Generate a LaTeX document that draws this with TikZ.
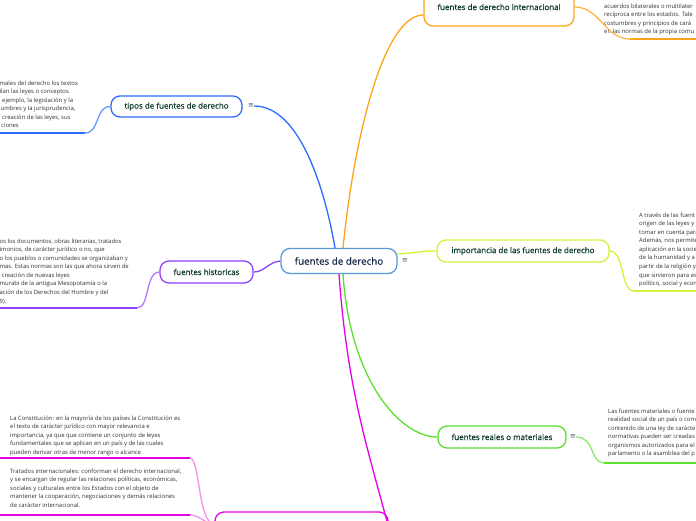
\documentclass[tikz,border=0pt]{standalone}
\usepackage{fontspec}
\setmainfont{Open Sans}
\newfontfamily\labelf[FakeBold=0.6]{Open Sans}
\newfontfamily\symf{DejaVu Sans}
\definecolor{cblue}{HTML}{2F6BFF}
\definecolor{corange}{HTML}{FFA31A}
\definecolor{clime}{HTML}{D9F03A}
\definecolor{cgreen}{HTML}{5AE02E}
\definecolor{cmag}{HTML}{E600E6}
\definecolor{cpink}{HTML}{F290F2}
\definecolor{cpurple}{HTML}{9040FF}
\definecolor{ccentral}{HTML}{5A9AD6}
\definecolor{labelc}{HTML}{0E3B2E}
\definecolor{centralc}{HTML}{1A2B4C}
\definecolor{bodyc}{HTML}{333333}
\begin{document}
\begin{tikzpicture}[x=1pt,y=-1pt,
  topic/.style={draw, rounded corners=9pt, fill=white, line width=1.3pt, inner sep=0pt,
    text=labelc, font=\labelf\fontsize{8}{9.5}\selectfont},
  body/.style={anchor=north west, align=left, inner sep=0pt, text=bodyc,
    font=\fontsize{5.9}{8.55}\selectfont},
  menu/.style={text=black!65, font=\symf\fontsize{7}{7}\selectfont, inner sep=0pt},
  link/.style={line width=1.3pt}]
\useasboundingbox (0,0) rectangle (696,520);
\clip (0,0) rectangle (696,520);
\fill[white] (0,0) rectangle (696,520);

% nodes
\node[topic, draw=ccentral, text=centralc, font=\labelf\fontsize{9.8}{11}\selectfont,
  minimum width=116pt, minimum height=25pt] (c) at (339,261) {fuentes de derecho};
\node[menu] (m0) at (405,261) {≡};
\node[topic, draw=cblue, minimum width=131pt, minimum height=21pt] (t) at (176.5,106.5) {tipos de fuentes de derecho};
\node[menu] (m1) at (251,106) {≡};
\node[topic, draw=cpurple, minimum width=93pt, minimum height=22pt] (h) at (206.5,272) {fuentes historicas};
\node[topic, draw=corange, minimum width=150pt, minimum height=38pt] (i) at (499,7) {fuentes de derecho internacional};
\node[topic, draw=clime, minimum width=172pt, minimum height=22pt] (p) at (523,251) {importancia de las fuentes de derecho};
\node[topic, draw=cgreen, minimum width=128pt, minimum height=22pt] (r) at (502,437) {fuentes reales o materiales};
\node[menu] (m3) at (573,437) {≡};
\node[topic, draw=cmag, minimum width=173pt, minimum height=24pt] (b) at (301.5,524) {};

% text blocks
\node[body] (tb) at (-0.5,80.5) {males del derecho los textos\\ilan las leyes o conceptos\\\hspace*{2.5pt}ejemplo, la legislación y la\\\hspace*{1pt}umbres y la jurisprudencia,\\\hspace*{2.5pt}creación de las leyes, sus\\\hspace*{1.5pt}ciones};
\node[body] (hb) at (-0.5,238.5) {os los documentos, obras literarias, tratados\\imonios, de carácter jurídico o no, que\\o los pueblos o comunidades se organizaban y\\mas. Estas normas son las que ahora sirven de\\\hspace*{2pt}creación de nuevas leyes\\murabi de la antigua Mesopotamia o la\\ación de los Derechos del Hombre y del\\9).};
\node[body] (ib) at (604,3.5) {acuerdos bilaterales o multilater\\recíproca entre los estados. Tale\\costumbres y principios de cará\\en las normas de la propia comu};
\node[body] (pb) at (639,212.5) {A través de las fuent\\origen de las leyes y\\tomar en cuenta para\\Además, nos permite\\aplicación en la socie\\de la humanidad y a\\partir de la religión y\\que sirvieron para es\\político, social y econ};
\node[body] (rb) at (608,408.5) {Las fuentes materiales o fuente\\realidad social de un país o com\\contenido de una ley de carácte\\normativas pueden ser creadas\\organismos autorizados para el\\parlamento o la asamblea del p};
\node[body] (ab) at (10,415.5) {La Constitución: en la mayoría de los países la Constitución es\\el texto de carácter jurídico con mayor relevancia e\\importancia, ya que que contiene un conjunto de leyes\\fundamentales que se aplican en un país y de las cuales\\pueden derivar otras de menor rango o alcance};
\node[body] (bb) at (10,468.5) {Tratados internacionales: conforman el derecho internacional,\\y se encargan de regular las relaciones políticas, económicas,\\sociales y culturales entre los Estados con el objeto de\\mantener la cooperación, negociaciones y demás relaciones\\de carácter internacional.};

% underline coordinates
\coordinate (tu) at (85,133);   \coordinate (tu0) at (-2,133);
\coordinate (hu) at (137,308);  \coordinate (hu0) at (-2,308);
\coordinate (iu) at (630,39);   \coordinate (iu0) at (700,39);
\coordinate (pu) at (634,291);  \coordinate (pu0) at (700,291);
\coordinate (ru) at (604,463);  \coordinate (ru0) at (700,463);
\coordinate (au) at (190,458);  \coordinate (au0) at (-2,458);
\coordinate (bu) at (190,515);  \coordinate (bu0) at (-2,515);
\coordinate (mend) at (393,545);

% main connectors
\draw[link, cblue] ([xshift=-4pt]c.north) .. controls (325,190) and (300,106) .. (m1.east);
\draw[link, corange] ([xshift=4pt]c.north) .. controls (355,130) and (385,15) .. ([yshift=-8pt]i.west);
\draw[link, clime] ([yshift=7pt]c.east) .. controls (415,253) and (420,251) .. (p.west);
\draw[link, cgreen] ([xshift=4pt]c.south) .. controls (350,380) and (400,437) .. (r.west);
\draw[link, cmag] (c.south) .. controls (348,400) and (372,460) .. (mend);
\draw[link, cpurple] (c.west) .. controls (268,262) and (265,272) .. (h.east);

% sub connectors
\draw[link, cblue!70] (t.west) .. controls (95,106) and (100,133) .. (tu);
\draw[link, cblue] (tu) -- (tu0);
\draw[link, cpurple!70] (h.west) .. controls (145,272) and (150,308) .. (hu);
\draw[link, cpurple] (hu) -- (hu0);
\draw[link, corange!80] (i.east) .. controls (600,7) and (605,39) .. (iu);
\draw[link, corange] (iu) -- (iu0);
\draw[link, clime] (p.east) .. controls (625,251) and (620,291) .. (pu);
\draw[link, clime] (pu) -- (pu0);
\draw[link, cgreen!70] (m3.east) .. controls (595,437) and (590,463) .. (ru);
\draw[link, cgreen] (ru) -- (ru0);
\draw[link, cpink] (au) .. controls (200,458) and (198,524) .. (b.west);
\draw[link, cmag] (au) -- (au0);
\draw[link, cpink] (bu) .. controls (200,515) and (205,524) .. (b.west);
\draw[link, cmag] (bu) -- (bu0);
\end{tikzpicture}
\end{document}
